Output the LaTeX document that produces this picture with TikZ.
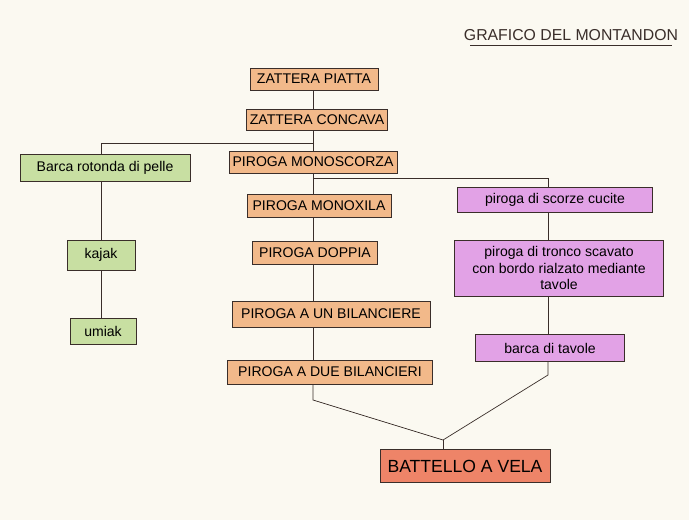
\documentclass[tikz,border=0pt]{standalone}
\usepackage{fontspec}
\setmainfont{Liberation Sans}
\usepackage{xcolor}
\definecolor{montPaper}{HTML}{FBF9F1}
\definecolor{montOrange}{HTML}{F2B98A}
\definecolor{montGreen}{HTML}{C8DFA2}
\definecolor{montPink}{HTML}{E2A2E6}
\definecolor{montRed}{HTML}{EE8468}
\definecolor{montInk}{HTML}{3A2E2A}
\usetikzlibrary{positioning}
\tikzset{
    boat/.style={
        draw=montInk,
        fill=montOrange,
        rectangle,
        align=center,
        inner sep=2pt,
        font=\footnotesize,
        thin
    },
    skin/.style={boat, fill=montGreen},
    bark/.style={boat, fill=montPink},
    sail/.style={boat, fill=montRed, font=\normalsize},
    link/.style={
        draw=montInk,
        thin
    }
}

\begin{document}
\begin{tikzpicture}[x=0.02cm,y=-0.02cm]
    \fill[montPaper] (0,0) rectangle (689,520);
    \node[font=\small, text=montInk] (title) at (571,35) {GRAFICO DEL MONTANDON};
    \draw[link] (470,45) -- (672,45);

    \node[boat, minimum width=2.56cm, minimum height=0.44cm] (piatta) at (314,79) {ZATTERA PIATTA};
    \node[boat, minimum width=2.74cm, minimum height=0.42cm] (concava) at (317,120) {ZATTERA CONCAVA};
    \node[boat, minimum width=2.66cm, minimum height=0.44cm] (mono) at (313,162) {PIROGA MONOSCORZA};
    \node[boat, minimum width=2.88cm, minimum height=0.46cm] (monox) at (319,206) {PIROGA MONOXILA};
    \node[boat, minimum width=2.5cm, minimum height=0.46cm] (doppia) at (315,253) {PIROGA DOPPIA};
    \node[boat, minimum width=3.96cm, minimum height=0.52cm] (unbil) at (331,314) {PIROGA A UN BILANCIERE};
    \node[boat, minimum width=4.1cm, minimum height=0.48cm] (duebil) at (330,372) {PIROGA A DUE BILANCIERI};

    \node[skin, minimum width=3.4cm, minimum height=0.54cm] (rotonda) at (105,168) {Barca rotonda di pelle};
    \node[skin, minimum width=1.36cm, minimum height=0.6cm] (kajak) at (101,255) {kajak};
    \node[skin, minimum width=1.32cm, minimum height=0.52cm] (umiak) at (103,331) {umiak};

    \node[bark, minimum width=3.9cm, minimum height=0.5cm] (cucite) at (555,200) {piroga di scorze cucite};
    \node[bark, minimum width=4.18cm, minimum height=1.12cm] (tronco) at (559,268) {piroga di tronco scavato\\con bordo rialzato mediante\\tavole};
    \node[bark, minimum width=2.98cm, minimum height=0.54cm] (tavole) at (550,348) {barca di tavole};

    \node[sail, minimum width=3.4cm, minimum height=0.66cm] (vela) at (465,466) {BATTELLO A VELA};

    % spines of the three branches
    \coordinate (spine) at (313,0);
    \coordinate (lspine) at (101,0);
    \coordinate (rspine) at (548,0);
    \coordinate (split) at (313,143);
    \coordinate (fork) at (313,178);
    \coordinate (join) at (443,440);

    \draw[link] (piatta.south -| spine) -- (concava.north -| spine);
    \draw[link] (concava.south -| spine) -- (mono.north -| spine);
    \draw[link] (mono.south -| spine) -- (monox.north -| spine);
    \draw[link] (monox.south -| spine) -- (doppia.north -| spine);
    \draw[link] (doppia.south -| spine) -- (unbil.north -| spine);
    \draw[link] (unbil.south -| spine) -- (duebil.north -| spine);
    \draw[link] (split) -| (rotonda.north -| lspine);
    \draw[link] (fork) -| (cucite.north -| rspine);
    \draw[link] (rotonda.south -| lspine) -- (kajak.north -| lspine);
    \draw[link] (kajak.south -| lspine) -- (umiak.north -| lspine);
    \draw[link] (cucite.south -| rspine) -- (tronco.north -| rspine);
    \draw[link] (tronco.south -| rspine) -- (tavole.north -| rspine);
    \draw[link] (duebil.south -| spine) -- (313,400) -- (join);
    \draw[link] (tavole.south -| rspine) -- (548,375) -- (join);
    \draw[link] (join) -- (join |- vela.north);
\end{tikzpicture}
\end{document}
